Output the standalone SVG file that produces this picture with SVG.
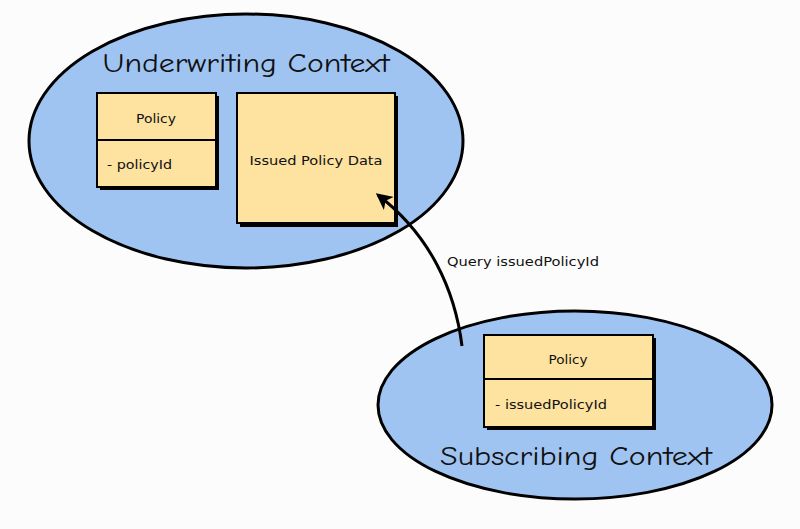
<svg xmlns="http://www.w3.org/2000/svg" width="800" height="529" viewBox="0 0 800 529">
<defs>
<style>
.ctx{fill:#9fc4f1;stroke:#000;stroke-width:3}
.box{fill:#fde2a0;stroke:#000;stroke-width:2}
.shadow{fill:#000}
.title{font-family:"Comic Neue","Liberation Sans",sans-serif;font-size:26px;fill:#111}
.lbl{font-family:"DejaVu Sans","Liberation Sans",sans-serif;font-size:13px;fill:#111}
.edge{fill:none;stroke:#000;stroke-width:3}
</style>
<marker id="arr" viewBox="0 0 12 12" refX="10" refY="6" markerWidth="5.5" markerHeight="5.5" orient="auto" markerUnits="strokeWidth">
<path d="M0,0 L12,6 L0,12 L3,6 Z" fill="#000"/>
</marker>
</defs>
<rect width="800" height="529" fill="#fcfcfc"/>
<g id="underwriting-context">
<ellipse class="ctx" cx="246" cy="141" rx="217" ry="127"/>
<text class="title" x="246" y="72" text-anchor="middle" textLength="287" lengthAdjust="spacingAndGlyphs">Underwriting Context</text>
</g>
<g id="policy-underwriting">
<rect class="shadow" x="100" y="96" width="119" height="94"/>
<rect class="box" x="97" y="93" width="119" height="94"/>
<line x1="97" y1="140" x2="216" y2="140" stroke="#000" stroke-width="2"/>
<text class="lbl" x="156" y="123" text-anchor="middle" textLength="40" lengthAdjust="spacingAndGlyphs">Policy</text>
<text class="lbl" x="107" y="169" textLength="65" lengthAdjust="spacingAndGlyphs">- policyId</text>
</g>
<g id="issued-policy-data">
<rect class="shadow" x="240" y="96" width="158" height="131"/>
<rect class="box" x="237" y="93" width="158" height="130"/>
<text class="lbl" x="316" y="165" text-anchor="middle" textLength="133" lengthAdjust="spacingAndGlyphs">Issued Policy Data</text>
</g>
<g id="subscribing-context">
<ellipse class="ctx" cx="575" cy="405" rx="197" ry="94"/>
<text class="title" x="576" y="465" text-anchor="middle" textLength="272" lengthAdjust="spacingAndGlyphs">Subscribing Context</text>
</g>
<g id="policy-subscribing">
<rect class="shadow" x="487" y="338" width="169" height="92"/>
<rect class="box" x="484" y="335" width="169" height="92"/>
<line x1="484" y1="379" x2="653" y2="379" stroke="#000" stroke-width="2"/>
<text class="lbl" x="568" y="364" text-anchor="middle" textLength="39" lengthAdjust="spacingAndGlyphs">Policy</text>
<text class="lbl" x="495" y="409" textLength="112" lengthAdjust="spacingAndGlyphs">- issuedPolicyId</text>
</g>
<g id="connectors">
<path class="edge" d="M462,346 C455,290 430,235 378,195" marker-end="url(#arr)"/>
<text class="lbl" x="447" y="266" textLength="152" lengthAdjust="spacingAndGlyphs">Query issuedPolicyId</text>
</g>
</svg>
